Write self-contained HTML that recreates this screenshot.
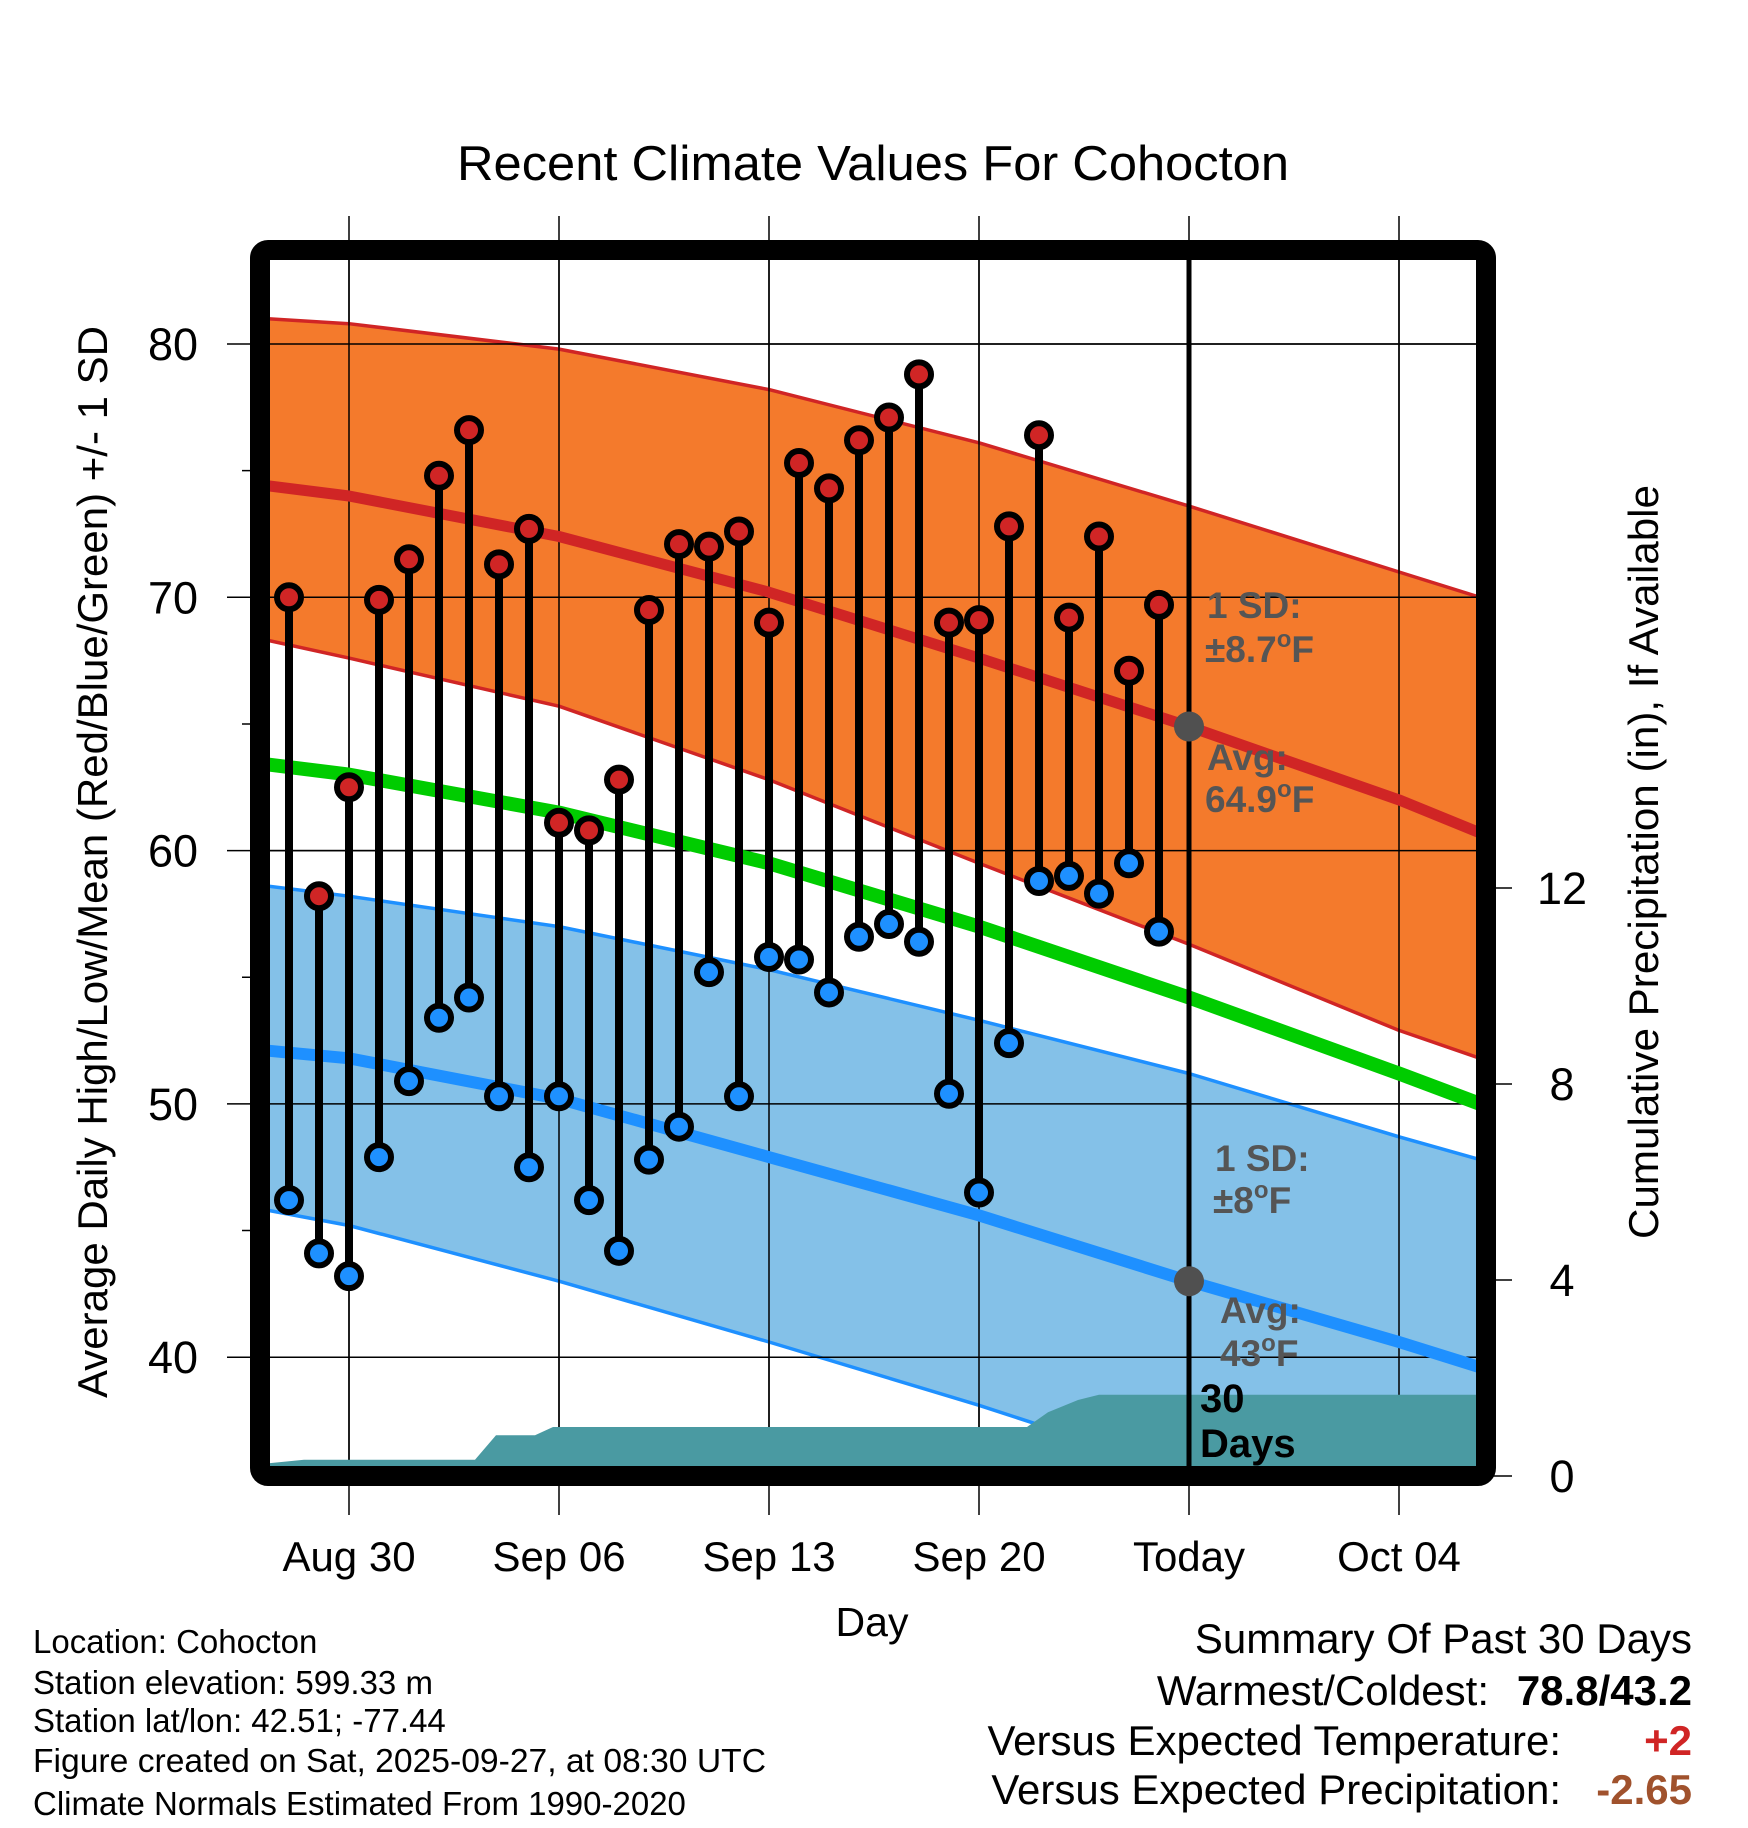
<!DOCTYPE html>
<html><head><meta charset="utf-8"><style>
html,body{margin:0;padding:0;background:#fff;}
svg{display:block;font-family:"Liberation Sans",sans-serif;}
</style></head><body>
<svg id="chart" width="1748" height="1828" viewBox="0 0 1748 1828" xmlns="http://www.w3.org/2000/svg">
<defs><clipPath id="plotclip"><rect x="270" y="260" width="1208" height="1206"/></clipPath></defs>
<text x="873" y="180" font-size="49" text-anchor="middle" textLength="832" lengthAdjust="spacingAndGlyphs">Recent Climate Values For Cohocton</text>
<g id="plot" clip-path="url(#plotclip)"></g>
<g id="over"></g>
<text transform="translate(107,862) rotate(-90)" font-size="42" text-anchor="middle" textLength="1072" lengthAdjust="spacingAndGlyphs">Average Daily High/Low/Mean (Red/Blue/Green) +/- 1 SD</text>
<text transform="translate(1658,862) rotate(-90)" font-size="42" text-anchor="middle" textLength="754" lengthAdjust="spacingAndGlyphs">Cumulative Precipitation (in), If Available</text>
<text x="872" y="1636" font-size="41" text-anchor="middle">Day</text>
<g font-size="33">
<text x="33" y="1653">Location: Cohocton</text>
<text x="33" y="1694">Station elevation: 599.33 m</text>
<text x="33" y="1732">Station lat/lon: 42.51; -77.44</text>
<text x="33" y="1772" textLength="733" lengthAdjust="spacingAndGlyphs">Figure created on Sat, 2025-09-27, at 08:30 UTC</text>
<text x="33" y="1815">Climate Normals Estimated From 1990-2020</text>
</g>
<g font-size="42" text-anchor="end">
<text x="1692" y="1653">Summary Of Past 30 Days</text>
<text x="1489" y="1705">Warmest/Coldest:</text>
<text x="1692" y="1705" font-weight="bold">78.8/43.2</text>
<text x="1561" y="1755">Versus Expected Temperature:</text>
<text x="1692" y="1755" font-weight="bold" fill="#d02525">+2</text>
<text x="1561" y="1804">Versus Expected Precipitation:</text>
<text x="1692" y="1804" font-weight="bold" fill="#a0522d">-2.65</text>
</g>
</svg>
<script>
// days relative to Aug 30 (0 = Aug 30)
const obsDays = [-2,-1,0,1,2,3,4,5,6,7,8,9,10,11,12,13,14,15,16,17,18,19,20,21,22,23,24,25,26,27];
const highs = [70.0,58.2,62.5,69.9,71.5,74.8,76.6,71.3,72.7,61.1,60.8,62.8,69.5,72.1,72.0,72.6,69.0,75.3,74.3,76.2,77.1,78.8,69.0,69.1,72.8,76.4,69.2,72.4,67.1,69.7];
const lows = [46.2,44.1,43.2,47.9,50.9,53.4,54.2,50.3,47.5,50.3,46.2,44.2,47.8,49.1,55.2,50.3,55.8,55.7,54.4,56.6,57.1,56.4,50.4,46.5,52.4,58.8,59.0,58.3,59.5,56.8];
const normDays = [-2.7,0,7,14,21,28,35,37.7];
const avgHigh = [74.4,74.0,72.4,70.2,67.6,64.9,62.0,60.7];
const highUp = [81.0,80.8,79.8,78.2,76.1,73.6,71.0,70.0];
const highLo = [68.3,67.6,65.7,62.8,59.5,56.3,52.9,51.8];
const avgMean = [63.4,63.0,61.5,59.5,57.0,54.2,51.2,50.0];
const avgLow = [52.1,51.8,50.2,47.9,45.6,43.0,40.6,39.6];
const lowUp = [58.6,58.2,57.0,55.3,53.3,51.2,48.7,47.8];
const lowLo = [45.8,45.2,43.0,40.6,38.1,35.4,33.0,32.0];
const precDays = [-2.7,-2,-1.5,4.2,4.9,6.2,6.8,22.6,23.3,24.3,25.0,37.7];
const precip = [0.26,0.3,0.33,0.33,0.83,0.83,1.0,1.0,1.3,1.55,1.66,1.66];
const xTickDays = [0,7,14,21,28,35];
const xTickLabels = ["Aug 30","Sep 06","Sep 13","Sep 20","Today","Oct 04"];
const yTicks = [40,50,60,70,80];
const yMinor = [45,55,65,75];
const pTicks = [0,4,8,12];
const todayDay = 28;

const NS="http://www.w3.org/2000/svg";
const X = d => 349 + d*30;
const Y = v => 344 + (80 - v)*25.33;
const P = p => 1476 - p*49;
const plot = document.getElementById('plot');
const over = document.getElementById('over');
const svg = document.getElementById('chart');
function mk(tag, attrs, parent){const e=document.createElementNS(NS,tag);for(const k in attrs)e.setAttribute(k,attrs[k]);parent.appendChild(e);return e;}
function pts(days, vals, f){return days.map((d,i)=>X(d).toFixed(1)+','+f(vals[i]).toFixed(1));}

xTickDays.forEach((d,i)=>{
  const l=mk('line',{x1:X(d),x2:X(d),y1:216,y2:1515,stroke:'#000','stroke-width':1.5},svg);
  
  
  svg.insertBefore(l, plot);
  const t=mk('text',{x:X(d),y:1571,'font-size':42,'text-anchor':'middle'},svg);
  t.textContent=xTickLabels[i];
  
  
});
yTicks.forEach(v=>{
  const l=mk('line',{x1:227,x2:1478,y1:Y(v),y2:Y(v),stroke:'#000','stroke-width':1.5},svg);
  
  
  svg.insertBefore(l, plot);
  const t=mk('text',{x:198,y:Y(v)+16,'font-size':45,'text-anchor':'end'},svg);
  t.textContent=v;
  
  
});
yMinor.forEach(v=>{
  const l=mk('line',{x1:242,x2:260,y1:Y(v),y2:Y(v),stroke:'#000','stroke-width':1.5},svg);
  
  
});
pTicks.forEach(p=>{
  const l=mk('line',{x1:1486,x2:1512,y1:P(p),y2:P(p),stroke:'#000','stroke-width':1.5},svg);
  
  
  const t=mk('text',{x:1562,y:P(p)+16,'font-size':45,'text-anchor':'middle'},svg);
  t.textContent=p;
  
  
});

const bg=mk('rect',{x:270,y:260,width:1208,height:1206,fill:'none'},plot);


const hb=mk('polygon',{points:pts(normDays,highUp,Y).concat(pts(normDays,highLo,Y).reverse()).join(' '),fill:'#f47a2c'},plot);


const lb=mk('polygon',{points:pts(normDays,lowUp,Y).concat(pts(normDays,lowLo,Y).reverse()).join(' '),fill:'#84c1e8'},plot);


[[highUp,'#d02525',3.5,'high-upper-edge'],[highLo,'#d02525',3.5,'high-lower-edge'],[lowUp,'#1e90ff',3.5,'low-upper-edge'],[lowLo,'#1e90ff',3.5,'low-lower-edge']].forEach(a=>{
  const l=mk('polyline',{points:pts(normDays,a[0],Y).join(' '),fill:'none',stroke:a[1],'stroke-width':a[2],'stroke-linejoin':'round'},plot);
  
  
});
xTickDays.forEach(d=>{
  const l=mk('line',{x1:X(d),x2:X(d),y1:260,y2:1466,stroke:'#000','stroke-width':1.5},plot);
  
  
});
yTicks.forEach(v=>{
  const l=mk('line',{x1:270,x2:1478,y1:Y(v),y2:Y(v),stroke:'#000','stroke-width':1.5},plot);
  
  
});
const pp=pts(precDays,precip,P);
const pa=mk('polygon',{points:[X(precDays[0])+',1500'].concat(pp).concat([X(precDays[precDays.length-1])+',1500']).join(' '),fill:'#4a9aa2'},plot);


[[avgHigh,'#d02525',11,'avg-high-line'],[avgMean,'#00cc00',14,'avg-mean-line'],[avgLow,'#1e90ff',12,'avg-low-line']].forEach(a=>{
  const l=mk('polyline',{points:pts(normDays,a[0],Y).join(' '),fill:'none',stroke:a[1],'stroke-width':a[2],'stroke-linejoin':'round'},plot);
  
  
});
const tl=mk('line',{x1:X(todayDay),x2:X(todayDay),y1:260,y2:1466,stroke:'#000','stroke-width':5},plot);


obsDays.forEach((d,i)=>{
  const s=mk('line',{x1:X(d),x2:X(d),y1:Y(highs[i]),y2:Y(lows[i]),stroke:'#000','stroke-width':8},plot);
  
  
});
obsDays.forEach((d,i)=>{
  const h=mk('circle',{cx:X(d),cy:Y(highs[i]),r:12,fill:'#d02525',stroke:'#000','stroke-width':6},plot);
  
  
  const l=mk('circle',{cx:X(d),cy:Y(lows[i]),r:12,fill:'#1e90ff',stroke:'#000','stroke-width':6},plot);
  
  
});
const ti=normDays.indexOf(28);
[[avgHigh[ti],'avg-high-marker'],[avgLow[ti],'avg-low-marker']].forEach(a=>{
  const c=mk('circle',{cx:X(todayDay),cy:Y(a[0]),r:15,fill:'#505050'},plot);
  
  
});
function label(x,y,txt,fill,name,size){const t=mk('text',{x:x,y:y,'font-size':size||37,'font-weight':'bold',fill:fill},plot);t.innerHTML=txt;}
label(1207,618,'1 SD:','#555','high-sd-label');
label(1205,662,'±8.7<tspan font-size="24" dy="-15">o</tspan><tspan dy="15">F</tspan>','#555','high-sd-value');
label(1207,770,'Avg:','#555','high-avg-label');
label(1205,812,'64.9<tspan font-size="24" dy="-15">o</tspan><tspan dy="15">F</tspan>','#555','high-avg-value');
label(1215,1171,'1 SD:','#555','low-sd-label');
label(1213,1213,'±8<tspan font-size="24" dy="-15">o</tspan><tspan dy="15">F</tspan>','#555','low-sd-value');
label(1220,1323,'Avg:','#555','low-avg-label');
label(1220,1366,'43<tspan font-size="24" dy="-15">o</tspan><tspan dy="15">F</tspan>','#555','low-avg-value');
label(1200,1412,'30','#000','window-days-label',40);
label(1200,1457,'Days','#000','window-days-unit',40);
const fr=mk('rect',{x:260,y:250,width:1226,height:1226,rx:8,fill:'none',stroke:'#000','stroke-width':20},over);


</script>
</body></html>
